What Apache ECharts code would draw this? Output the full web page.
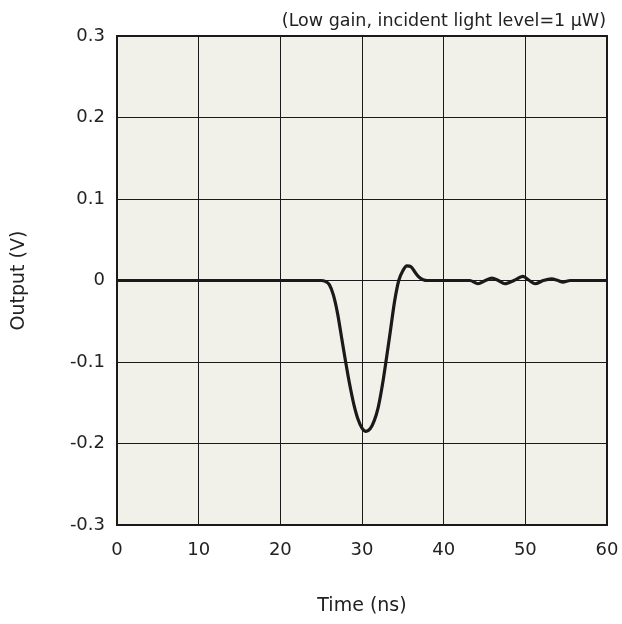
<!DOCTYPE html>
<html><head><meta charset="utf-8">
<script src="https://cdn.jsdelivr.net/npm/echarts@6/dist/echarts.min.js"></script>
<style>html,body{margin:0;padding:0;background:#fff}#c{width:622px;height:624px}</style>
</head><body><div id="c"></div>
<script>
var timeNs = [0,5,10,15,20,24,25,25.5,26,26.5,27,27.5,28,28.5,29,29.5,30,30.5,31,31.5,32,32.5,33,33.5,34,34.5,35,35.5,36,36.5,37,37.5,38,40,42,43.2,44.2,45.1,45.9,46.7,47.5,48.6,49.7,50.5,51.2,52.2,53.2,54,54.6,55.5,57,60];
var outputV = [0,0,0,0,0,0,0,-0.001,-0.005,-0.018,-0.04,-0.07,-0.1,-0.128,-0.152,-0.17,-0.181,-0.185,-0.182,-0.172,-0.155,-0.128,-0.095,-0.06,-0.025,0,0.012,0.018,0.017,0.01,0.004,0.001,0,0,0,0,-0.004,0,0.003,0,-0.004,0,0.005,0,-0.004,0,0.002,0,-0.002,0,0,0];
var xTicks = [0,10,20,30,40,50,60];
var yTicks = [-0.3,-0.2,-0.1,0,0.1,0.2,0.3];
var chart = echarts.init(document.getElementById('c'));
var font = 'DejaVu Sans';
chart.setOption({
  animation:false,
  title:{text:'(Low gain, incident light level=1 µW)',right:11,top:7,textStyle:{fontFamily:font,fontSize:17.5,fontWeight:'normal',color:'#222'}},
  grid:{left:117,right:15,top:36,bottom:99,show:true,backgroundColor:'#f2f1e9',borderColor:'#1a1a1a',borderWidth:2},
  xAxis:{type:'value',min:0,max:60,interval:10,name:'Time (ns)',nameLocation:'middle',nameGap:72,
    nameTextStyle:{fontFamily:font,fontSize:19,color:'#222'},
    axisLine:{show:false},axisTick:{show:false},
    axisLabel:{fontFamily:font,fontSize:18,color:'#222',margin:16},
    splitLine:{show:true,lineStyle:{color:'#1a1a1a',width:1}}},
  yAxis:{type:'value',min:-0.3,max:0.3,interval:0.1,name:'Output (V)',nameLocation:'middle',nameGap:88,
    nameTextStyle:{fontFamily:font,fontSize:19,color:'#222'},
    axisLine:{show:false},axisTick:{show:false},
    axisLabel:{fontFamily:font,fontSize:18,color:'#222',margin:12,formatter:function(v){var r=Math.round(v*10)/10;return r===0?'0':String(r);}},
    splitLine:{show:true,lineStyle:{color:'#1a1a1a',width:1}}},
  series:[{type:'line',data:timeNs.map(function(t,i){return [t,outputV[i]];}),smooth:0.3,symbol:'none',
    lineStyle:{color:'#1a1a1a',width:3.2}}]
});
</script></body></html>
